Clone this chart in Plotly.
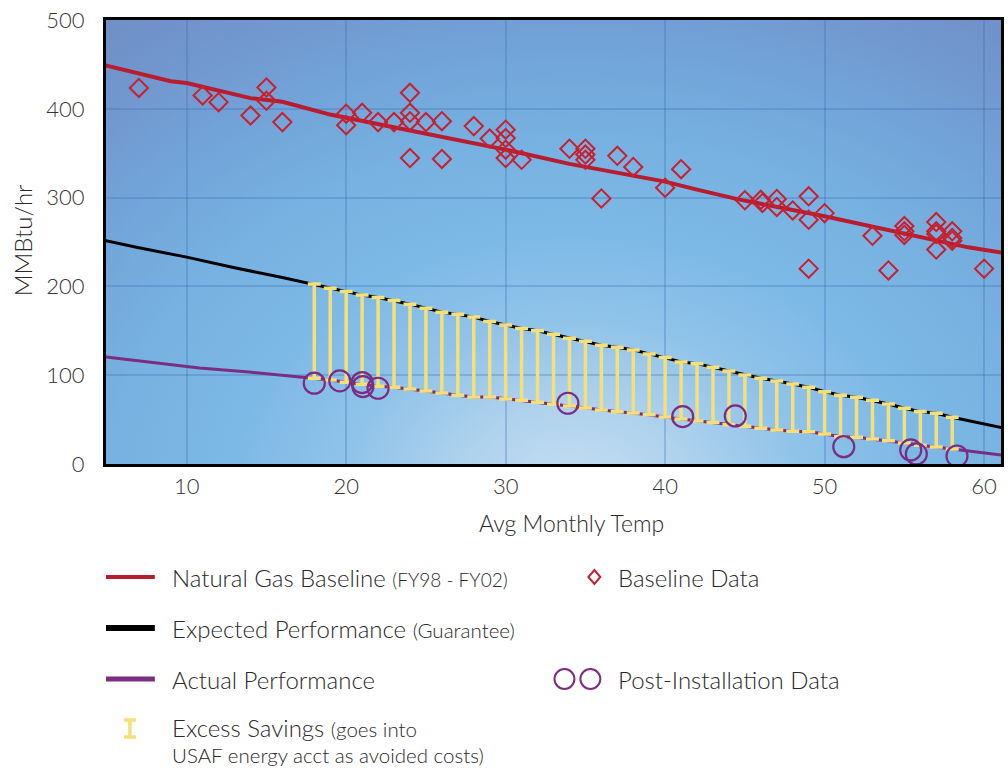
import base64
import plotly.graph_objects as go

# ---------------- data ----------------
baseline_line_temp = [4.9, 9, 10, 14, 16, 19, 24, 26.4, 30, 34, 40, 42, 44.6, 50, 54, 59, 61.1]
baseline_line_val = [449, 431, 429, 412, 408, 393.5, 375.5, 367, 354, 338, 318, 309, 298, 279, 263, 244, 238]

baseline_data_temp = [7, 11, 12, 14, 15, 15, 16, 20, 20, 21, 22, 23, 24, 24, 24, 25, 24, 26, 26,
                      28, 29, 30, 30, 30, 30, 31, 34, 35, 35, 35, 36, 37, 38, 40, 41,
                      45, 46, 46.1, 47, 47, 48, 49, 49, 49, 50, 53, 54, 55, 55, 55,
                      57, 57, 57, 57, 58, 58, 58, 60]
baseline_data_val = [423.5, 415, 407.5, 392.5, 424, 409, 385, 394.5, 381.5, 395.5, 385, 385, 418, 395.5, 386, 385, 344.5, 386, 343.5,
                     380.5, 366.5, 376.5, 367, 354, 344.5, 342.5, 355, 355, 348.5, 342.5, 299, 347, 334.5, 311, 332,
                     297, 297.5, 294, 298.5, 289.5, 285.5, 301.5, 275, 220, 282.5, 257, 218, 268, 262, 258,
                     272.5, 262, 259, 241.5, 262, 254.5, 251.5, 220]

expected_lead_temp = [4.9, 7, 10, 13, 16, 17]
expected_lead_val = [251.5, 243.5, 233, 221, 210, 206]
actual_lead_temp = [4.9, 7.7, 10.8, 13.9, 17]
actual_lead_val = [120.6, 114.5, 108, 103.5, 98]

savings_temp = list(range(18, 59))
expected_val = [202.6, 198.0, 194.3, 190.2, 187.5, 184.0, 180.0, 175.5, 171.0, 168.5,
                165.4, 160.5, 156.4, 152.6, 150.0, 146.0, 141.7, 138.3, 133.8, 131.5,
                128.5, 124.0, 119.8, 115.0, 113.0, 109.0, 104.8, 100.3, 96.6, 93.6,
                90.2, 86.5, 81.5, 77.5, 75.2, 71.8, 67.6, 62.8, 59.0, 57.2, 52.6]
actual_val = [96.6, 94.7, 92.1, 89.9, 87.6, 86.5, 84.6, 82.3, 80.0, 77.5,
              75.5, 75.5, 73.3, 71.8, 69.6, 67.3, 65.4, 63.1, 60.9, 58.9,
              57.5, 55.6, 53.0, 50.7, 48.5, 46.6, 44.3, 42.5, 40.2, 38.3,
              36.8, 36.4, 33.8, 30.8, 30.1, 28.2, 26.3, 23.7, 21.1, 19.2, 16.9]

expected_tail_temp = [61.1]
expected_tail_val = [41]
actual_tail_temp = [61.1]
actual_tail_val = [10]

post_temp = [18, 19.6, 21, 21.05, 22, 33.9, 41.1, 44.4, 51.2, 55.4, 55.75, 58.3]
post_val = [91, 93.6, 91.7, 87.2, 85.3, 68.4, 53.3, 54.1, 19.5, 15.8, 11.3, 9.0]

x_ticks = [10, 20, 30, 40, 50, 60]
y_ticks = [0, 100, 200, 300, 400, 500]

# ---------------- styling ----------------
FONT = "Lato"
RED = "#b81c2e"
RED_M = "#c8202f"
PURPLE = "#7b2d82"
YELLOW = "#f4df78"
TXT = "#2a2a2a"

W, H = 1008, 768
L, R, T, B = 106, 4, 20, 304
PW, PH = W - L - R, H - T - B


def px(xp):
    return (xp - L) / PW


def py(yp):
    return (H - B - yp) / PH


# background gradient (SVG)
svg = f'''<svg xmlns="http://www.w3.org/2000/svg" width="{PW}" height="{PH}" viewBox="0 0 {PW} {PH}" preserveAspectRatio="none">
<defs><radialGradient id="g" gradientUnits="userSpaceOnUse" cx="0" cy="0" r="1" gradientTransform="translate(470,470) scale(760,570)">
<stop offset="0" stop-color="#c6def1"/>
<stop offset="0.15" stop-color="#afd2ed"/>
<stop offset="0.3" stop-color="#90c3e9"/>
<stop offset="0.45" stop-color="#7db9e6"/>
<stop offset="0.62" stop-color="#76b1e1"/>
<stop offset="0.78" stop-color="#72a3d8"/>
<stop offset="0.9" stop-color="#7198cf"/>
<stop offset="1" stop-color="#7090c8"/>
</radialGradient></defs>
<rect x="0" y="0" width="{PW}" height="{PH}" fill="url(#g)"/></svg>'''
svg_uri = "data:image/svg+xml;base64," + base64.b64encode(svg.encode()).decode()

fig = go.Figure()

fig.add_trace(go.Scatter(x=baseline_line_temp, y=baseline_line_val, mode="lines",
                         line=dict(color=RED, width=4), hoverinfo="skip"))
fig.add_trace(go.Scatter(x=expected_lead_temp + savings_temp + expected_tail_temp,
                         y=expected_lead_val + expected_val + expected_tail_val, mode="lines",
                         line=dict(color="black", width=3), hoverinfo="skip"))
fig.add_trace(go.Scatter(x=actual_lead_temp + savings_temp + actual_tail_temp,
                         y=actual_lead_val + actual_val + actual_tail_val, mode="lines",
                         line=dict(color=PURPLE, width=3), hoverinfo="skip"))

mid = [(e + a) / 2 for e, a in zip(expected_val, actual_val)]
half = [(e - a) / 2 for e, a in zip(expected_val, actual_val)]
fig.add_trace(go.Scatter(x=savings_temp, y=mid, mode="markers",
                         marker=dict(size=1, opacity=0),
                         error_y=dict(type="data", array=half, symmetric=True,
                                      color=YELLOW, thickness=3.5, width=6.5),
                         hoverinfo="skip"))

fig.add_trace(go.Scatter(x=baseline_data_temp, y=baseline_data_val, mode="markers",
                         marker=dict(symbol="diamond-open", size=14, color=RED_M,
                                     line=dict(width=2, color=RED_M))))
fig.add_trace(go.Scatter(x=post_temp, y=post_val, mode="markers",
                         marker=dict(symbol="circle-open", size=21, color=PURPLE,
                                     line=dict(width=2.2, color=PURPLE))))

# ---------------- legend (drawn) ----------------
shapes = []
annotations = []
for yrow, color, wdt in [(577, RED, 4), (628, "black", 6), (679, PURPLE, 5)]:
    shapes.append(dict(type="line", xref="paper", yref="paper", x0=px(106), x1=px(155),
                       y0=py(yrow), y1=py(yrow), line=dict(color=color, width=wdt)))
# yellow I icon
shapes.append(dict(type="line", xref="paper", yref="paper", x0=px(130), x1=px(130),
                   y0=py(720), y1=py(737), line=dict(color=YELLOW, width=3.5)))
for yy in (720, 737):
    shapes.append(dict(type="line", xref="paper", yref="paper", x0=px(124), x1=px(136),
                       y0=py(yy), y1=py(yy), line=dict(color=YELLOW, width=3.5)))
# diamond icon
cx, cy = 596, 577
shapes.append(dict(type="path", xref="paper", yref="paper",
                   path=f"M {px(cx)},{py(cy-7)} L {px(cx+6)},{py(cy)} L {px(cx)},{py(cy+7)} L {px(cx-6)},{py(cy)} Z",
                   line=dict(color=RED_M, width=2)))
# circles icon
for ccx in (566, 592):
    shapes.append(dict(type="circle", xref="paper", yref="paper",
                       x0=px(ccx - 10), x1=px(ccx + 10), y0=py(679 + 10), y1=py(679 - 10),
                       line=dict(color=PURPLE, width=2)))


def ann(text, xpx, ypx, size=24, color=TXT):
    annotations.append(dict(text=text, xref="paper", yref="paper", x=px(xpx), y=py(ypx),
                            xanchor="left", yanchor="middle", showarrow=False,
                            font=dict(family=FONT, size=size, color=color, weight=300)))


ann("Natural Gas Baseline <span style='font-size:19px'>(FY98 - FY02)</span>", 170, 577)
ann("Baseline Data", 618, 577)
ann("Expected Performance <span style='font-size:20.5px'>(Guarantee)</span>", 170, 628)
ann("Actual Performance", 170, 679)
ann("Post-Installation Data", 618, 679)
ann("Excess Savings <span style='font-size:20.5px'>(goes into</span>", 170, 727)
ann("USAF energy acct as avoided costs)", 170, 755, size=20.5)

# axis titles
annotations.append(dict(text="Avg Monthly Temp", xref="paper", yref="paper",
                        x=px(573), y=py(523), xanchor="center", yanchor="middle",
                        showarrow=False, font=dict(family=FONT, size=23, color=TXT, weight=300)))
annotations.append(dict(text="MMBtu/hr", xref="paper", yref="paper",
                        x=px(22), y=py(240), xanchor="center", yanchor="middle", textangle=-90,
                        showarrow=False, font=dict(family=FONT, size=24, color=TXT, weight=300)))

fig.update_layout(
    width=W, height=H,
    margin=dict(l=L, r=R, t=T, b=B, pad=0),
    paper_bgcolor="white", plot_bgcolor="rgba(0,0,0,0)",
    showlegend=False,
    font=dict(family=FONT, color=TXT),
    shapes=shapes, annotations=annotations,
    images=[dict(source=svg_uri, xref="paper", yref="paper", x=0, y=1, sizex=1, sizey=1,
                 sizing="stretch", xanchor="left", yanchor="top", layer="below")],
)
TICKFONT = dict(family=FONT, size=22, color="#333", weight=300)
fig.update_xaxes(range=[4.94, 61.06], tickvals=x_ticks, showgrid=True,
                 gridcolor="rgba(55,105,175,0.28)", gridwidth=1.5, zeroline=False,
                 showline=True, linecolor="black", linewidth=3, mirror=True, ticks="",
                 tickfont=TICKFONT, ticklabelstandoff=1)
fig.update_yaxes(range=[0, 500], tickvals=y_ticks, showgrid=True,
                 gridcolor="rgba(55,105,175,0.28)", gridwidth=1.5, zeroline=False,
                 showline=True, linecolor="black", linewidth=3, mirror=True, ticks="",
                 tickfont=TICKFONT, ticklabelstandoff=14)

fig.write_html("out.html", config={"displayModeBar": False},
               post_script="document.body.style.margin='0';document.body.style.overflow='hidden';")
